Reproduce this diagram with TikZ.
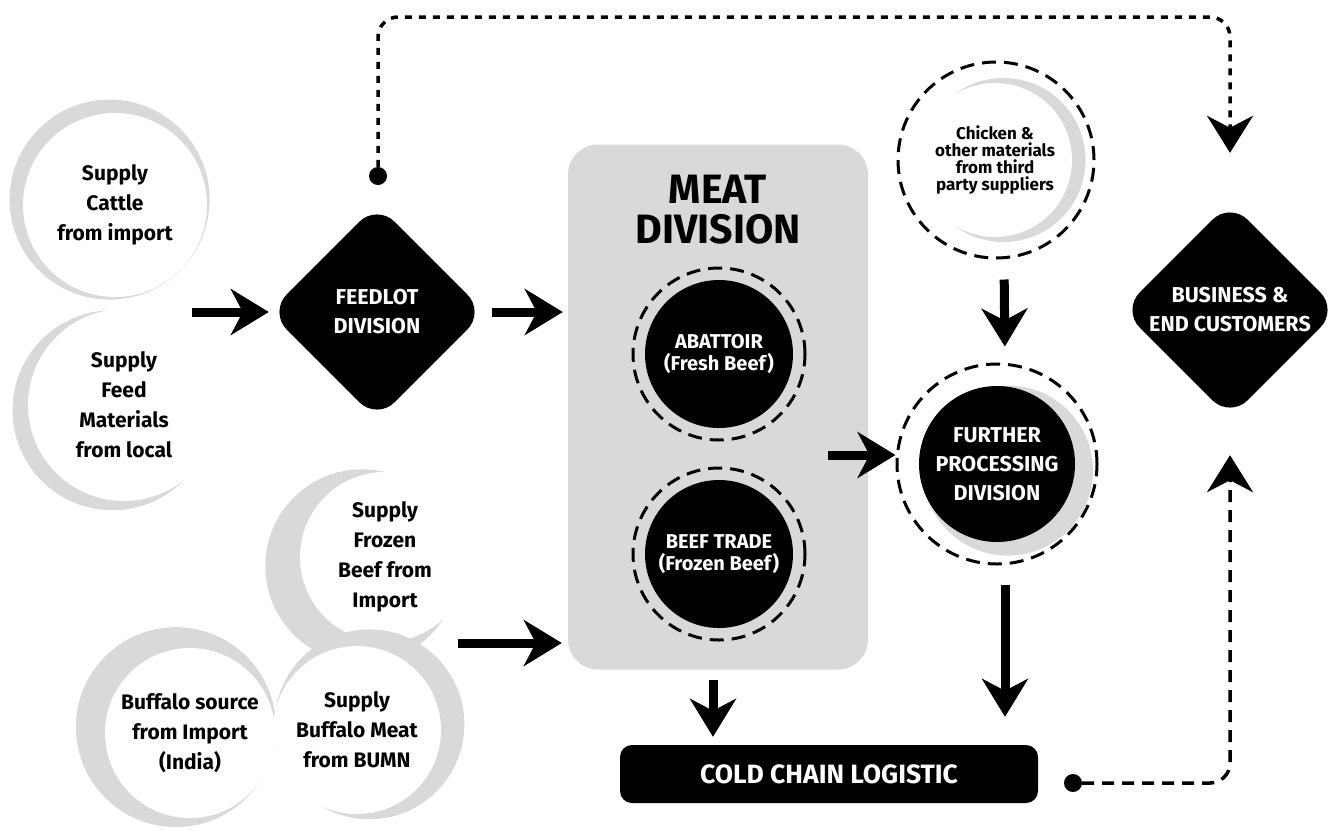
\documentclass[tikz,border=0pt]{standalone}
\usepackage{fontspec}
\setmainfont{Fira Sans}
\usepackage{xcolor}
\usetikzlibrary{arrows.meta,positioning,shapes.geometric,shadows}
\definecolor{shade}{RGB}{217,217,217}

\begin{document}
\begin{tikzpicture}[
    x=1pt, y=-1pt,
    every node/.style={inner sep=0pt, align=center},
    supply/.style={circle, fill=white, minimum size=#1, font=\fontsize{21}{30}\selectfont\bfseries},
    crescent/.style n args={3}{drop shadow={shadow xshift=#1pt, shadow yshift=#2pt, shadow scale=#3, fill=shade, opacity=1}},
    division/.style={circle, fill=black, text=white, minimum size=#1, font=\fontsize{20}{22}\selectfont\bfseries},
    ring/.style={circle, draw, line width=3pt, dash pattern=on 14pt off 8pt, minimum size=#1},
    hub/.style={diamond, fill=black, text=white, rounded corners=25pt, minimum width=216pt, minimum height=216pt, font=\fontsize{21.5}{29}\selectfont\bfseries},
    anchordot/.style={circle, fill=black, minimum size=18pt},
    flow/.style={-{Stealth[length=38pt, width=46pt, inset=12pt]}, line width=9pt},
    link/.style={-{Stealth[length=37pt, width=46pt, inset=12pt]}, line width=3.5pt, rounded corners=20pt}
]
\useasboundingbox (0,0) rectangle (1333,831);

% Suppliers
\node[supply=184pt, crescent={-5}{5}{1.087}] (cattle) at (115,205) {Supply\\Cattle\\from import};
\node[supply=192pt, crescent={-11}{-5}{1.042}] (feed) at (124,405) {Supply\\Feed\\Materials\\from local};
\node[supply=170pt, crescent={-20}{-8}{1.14}] (frozen) at (385,557) {Supply\\Frozen\\Beef from\\Import};
\node[supply=170pt, crescent={-12}{5}{1.176}] (buffalo) at (190,733) {Buffalo source\\from Import\\(India)};
\node[supply=168pt, crescent={11}{5}{1.13}] (bumn) at (357,730) {Supply\\Buffalo Meat\\from BUMN};

% Feedlot
\node[hub] (feedlot) at (377,312) {FEEDLOT\\DIVISION};
\node[anchordot] (fdot) at (378,176) {};

% Meat division
\node[fill=shade, rounded corners=30pt, minimum width=300pt, minimum height=525pt] (meat) at (718,407) {};
\node[font=\fontsize{41}{40}\selectfont\bfseries] (meattitle) at (718,210) {MEAT\\DIVISION};
\node[ring=172pt] (abattoirring) at (719,354) {};
\node[division=148pt] (abattoir) at (719,354) {ABATTOIR\\(Fresh Beef)};
\node[ring=172pt] (tradering) at (719,554) {};
\node[division=148pt] (trade) at (719,554) {BEEF TRADE\\(Frozen Beef)};

% Third party and further processing
\node[ring=196pt] (chickenring) at (996,160) {};
\node[supply=154pt, crescent={8}{0}{1.065}, font=\fontsize{17}{17}\selectfont\bfseries] (chicken) at (995,160) {Chicken \&\\other materials\\from third\\party suppliers};
\node[division=156pt, crescent={10}{-6}{1.09}, font=\fontsize{21.5}{29}\selectfont\bfseries] (further) at (997,464) {FURTHER\\PROCESSING\\DIVISION};
\node[ring=200pt] (furtherring) at (997,464) {};

% Customers and logistic
\node[hub] (business) at (1230,310) {BUSINESS \&\\END CUSTOMERS};
\node[fill=black, text=white, rounded corners=12pt, minimum width=418pt, minimum height=58pt, font=\fontsize{26.5}{26}\selectfont\bfseries] (cold) at (829,774) {COLD CHAIN LOGISTIC};
\node[anchordot] (cdot) at (1073,783) {};

\coordinate (supplyout) at (192,312);
\coordinate (frozenout) at (458,643);
\coordinate (meatout) at (828,455);
\coordinate (looptop) at (800,17);

% Main flow arrows
\draw[flow] (supplyout) -- (feedlot);
\draw[flow, shorten <=7pt, shorten >=5pt] (feedlot) -- (feedlot -| meat.west);
\draw[flow, shorten >=6pt] (frozenout) -- (frozenout -| meat.west);
\draw[flow] (meatout) -- (meatout -| furtherring.west);
\draw[flow, shorten <=20pt, shorten >=16pt] ([xshift=8pt]chickenring.south) -- ([xshift=8pt]furtherring.north);
\draw[flow, shorten <=19pt, shorten >=28pt] ([xshift=8pt]furtherring.south) -- ([xshift=8pt]furtherring.south |- cold.north);
\draw[flow, shorten <=10pt, shorten >=8pt] ([xshift=-5pt]meat.south) -- ([xshift=-5pt]meat.south |- cold.north);

% Dashed links to customers
\draw[link, dash pattern=on 7pt off 7pt, shorten >=49pt] (fdot) |- (looptop -| business) -- (business);
\draw[link, dash pattern=on 12pt off 8pt, shorten >=37pt] (cdot) -| (business);
\end{tikzpicture}
\end{document}
